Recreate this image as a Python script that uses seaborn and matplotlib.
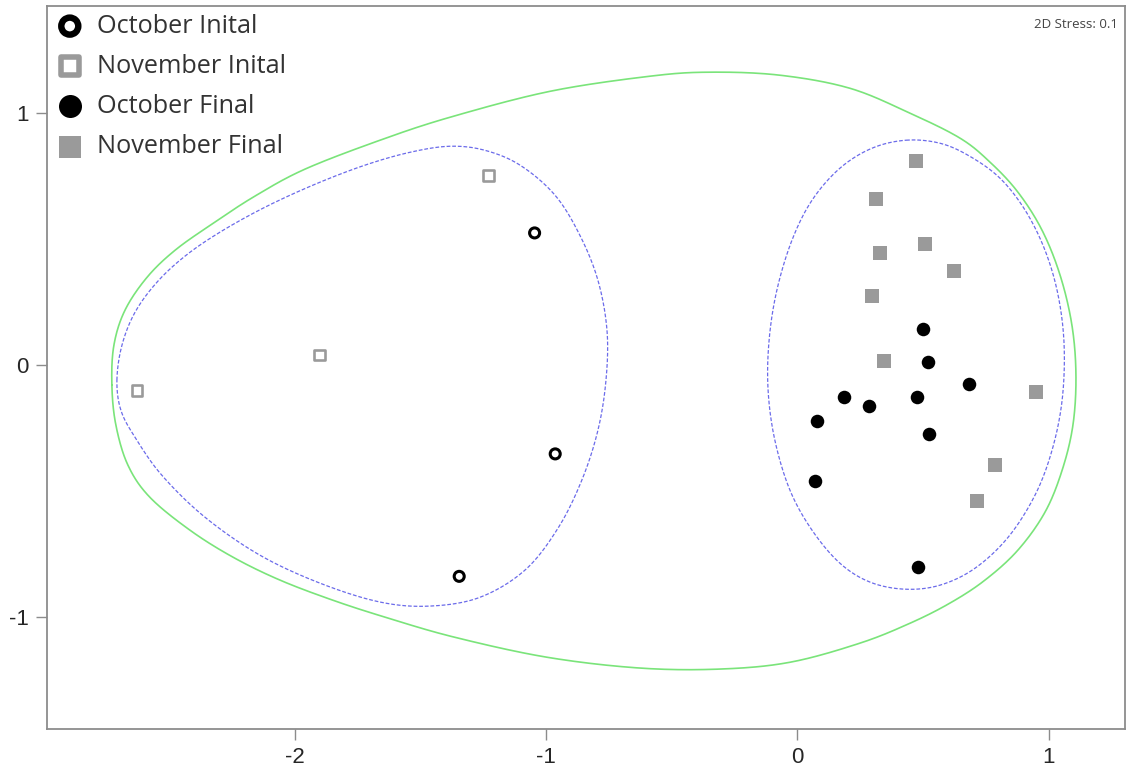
"""
nMDS ordination of October / November samples with cluster contours.
"""

import numpy as np
import pandas as pd
import matplotlib
matplotlib.use("Agg")
import matplotlib.pyplot as plt
import seaborn as sns

# ordination scores
oct_init_x = [-1.046, -0.964, -1.346]
oct_init_y = [0.525, -0.352, -0.838]
nov_init_x = [-1.229, -1.903, -2.628]
nov_init_y = [0.753, 0.040, -0.100]
oct_final_x = [0.498, 0.518, 0.684, 0.185, 0.283, 0.477, 0.079, 0.522, 0.071, 0.478]
oct_final_y = [0.143, 0.011, -0.075, -0.128, -0.162, -0.128, -0.222, -0.275, -0.460, -0.799]
nov_final_x = [0.470, 0.314, 0.507, 0.328, 0.624, 0.295, 0.343, 0.950, 0.785, 0.715]
nov_final_y = [0.811, 0.658, 0.480, 0.446, 0.374, 0.275, 0.017, -0.107, -0.398, -0.540]

# similarity contour outlines (control points, smoothed when drawn)
outer_x = [-2.728, -2.720, -2.676, -2.588, -2.477, -2.330, -2.159, -1.960, -1.661,
           -1.383, -0.985, -0.587, -0.348, -0.070, 0.209, 0.448, 0.647, 0.766,
           0.877, 0.973, 1.045, 1.092, 1.108, 1.096, 1.053, 0.985, 0.877, 0.746,
           0.607, 0.448, 0.249, -0.030, -0.308, -0.627, -0.997, -1.367, -1.641,
           -1.848, -2.059, -2.246, -2.417, -2.577, -2.664, -2.712]
outer_y = [-0.079, 0.079, 0.218, 0.349, 0.456, 0.560, 0.671, 0.778, 0.893,
           0.984, 1.087, 1.147, 1.163, 1.151, 1.099, 1.000, 0.901, 0.806,
           0.687, 0.536, 0.357, 0.159, -0.040, -0.238, -0.417, -0.583, -0.734, -0.853,
           -0.944, -1.024, -1.103, -1.179, -1.206, -1.202, -1.159, -1.079, -1.000,
           -0.933, -0.853, -0.762, -0.655, -0.524, -0.397, -0.238]
left_x = [-2.708, -2.688, -2.636, -2.549, -2.437, -2.298, -2.119, -1.920, -1.721,
          -1.542, -1.383, -1.244, -1.104, -0.965, -0.866, -0.794, -0.758, -0.762,
          -0.794, -0.858, -0.953, -1.084, -1.263, -1.462, -1.661, -1.900, -2.139,
          -2.358, -2.529, -2.636, -2.692]
left_y = [-0.060, 0.079, 0.210, 0.329, 0.433, 0.528, 0.627, 0.718, 0.794,
          0.845, 0.869, 0.853, 0.794, 0.675, 0.516, 0.337, 0.139, -0.060,
          -0.258, -0.456, -0.647, -0.813, -0.921, -0.956, -0.940, -0.865, -0.754,
          -0.603, -0.437, -0.286, -0.179]
right_x = [0.432, 0.567, 0.686, 0.806, 0.906, 0.985, 1.037, 1.061, 1.053, 1.013,
           0.945, 0.838, 0.706, 0.567, 0.428, 0.289, 0.169, 0.058, -0.030, -0.090,
           -0.117, -0.113, -0.082, -0.022, 0.058, 0.169, 0.296]
right_y = [0.893, 0.881, 0.829, 0.742, 0.615, 0.456, 0.278, 0.079, -0.139, -0.337,
           -0.516, -0.683, -0.806, -0.873, -0.889, -0.861, -0.786, -0.655, -0.496, -0.298,
           -0.099, 0.099, 0.298, 0.496, 0.655, 0.782, 0.861]

x_ticks = [-2, -1, 0, 1]
y_ticks = [-1, 0, 1]

GREY = "#9a9a9a"
AXIS_GREY = "#8c8c8c"

sns.set_theme(style="white")
plt.rcParams["font.family"] = ["Liberation Sans", "DejaVu Sans"]
plt.rcParams["axes.unicode_minus"] = False


def closed_curve(xs, ys, n=24):
    """Periodic Catmull-Rom smoothing through the outline points."""
    p = np.column_stack([xs, ys])
    k = len(p)
    t = np.linspace(0, 1, n, endpoint=False)[:, None]
    out = []
    for i in range(k):
        p0, p1, p2, p3 = p[(i - 1) % k], p[i], p[(i + 1) % k], p[(i + 2) % k]
        seg = 0.5 * (2 * p1 + (-p0 + p2) * t + (2 * p0 - 5 * p1 + 4 * p2 - p3) * t ** 2
                     + (-p0 + 3 * p1 - 3 * p2 + p3) * t ** 3)
        out.append(seg)
    out.append(p[:1])
    out = np.vstack(out)
    return out[:, 0], out[:, 1]


fig, ax = plt.subplots(figsize=(11.28, 7.70), dpi=100)
fig.subplots_adjust(left=0.0417, right=0.9973, bottom=0.0532, top=0.992)

cx, cy = closed_curve(outer_x, outer_y)
ax.plot(cx, cy, color="#7ae47a", lw=1.2, zorder=1)
for xs, ys in [(left_x, left_y), (right_x, right_y)]:
    cx, cy = closed_curve(xs, ys)
    ax.plot(cx, cy, color="#6b6bea", lw=0.9, ls=(0, (3, 1.5)), zorder=1)

groups = [
    ("October Inital", oct_init_x, oct_init_y, "o", "none", "black", 2.2, 52),
    ("November Inital", nov_init_x, nov_init_y, "s", "none", GREY, 1.9, 58),
    ("October Final", oct_final_x, oct_final_y, "o", "black", "black", 0, 95),
    ("November Final", nov_final_x, nov_final_y, "s", GREY, GREY, 0, 92),
]
for label, xs, ys, mk, fc, ec, lw, s in groups:
    df = pd.DataFrame({"x": xs, "y": ys})
    sns.scatterplot(data=df, x="x", y="y", marker=mk, color=ec, facecolor=fc,
                    edgecolor=ec, linewidth=lw, s=s, label=label, ax=ax, zorder=3)

ax.set(xlim=(-2.986, 1.303), ylim=(-1.444, 1.425), xlabel="", ylabel="")
ax.set_xticks(x_ticks)
ax.set_yticks(y_ticks)
ax.tick_params(axis="both", which="major", direction="out", length=8, width=1,
               color=AXIS_GREY, labelsize=16, pad=5, left=True, bottom=True)
ax.grid(False)
for sp in ax.spines.values():
    sp.set_color(AXIS_GREY)
    sp.set_linewidth(1.3)

leg = ax.legend(loc="upper left", frameon=False, markerscale=1.7,
                prop={"family": "Open Sans", "size": 18.2},
                labelspacing=0.6, handletextpad=0.46, borderaxespad=0.1,
                borderpad=0.2, handlelength=1.2)
for text in leg.get_texts():
    text.set_color("#333333")
for h, (_, _, _, _, fc, ec, lw, _) in zip(leg.legend_handles, groups):
    h.set_linewidth(lw * 2.1)

ax.text(0.993, 0.975, "2D Stress: 0.1", transform=ax.transAxes, ha="right",
        va="center", fontsize=9.5, color="#444444", family="Open Sans")

fig.savefig("out.png", dpi=100, facecolor="white")
